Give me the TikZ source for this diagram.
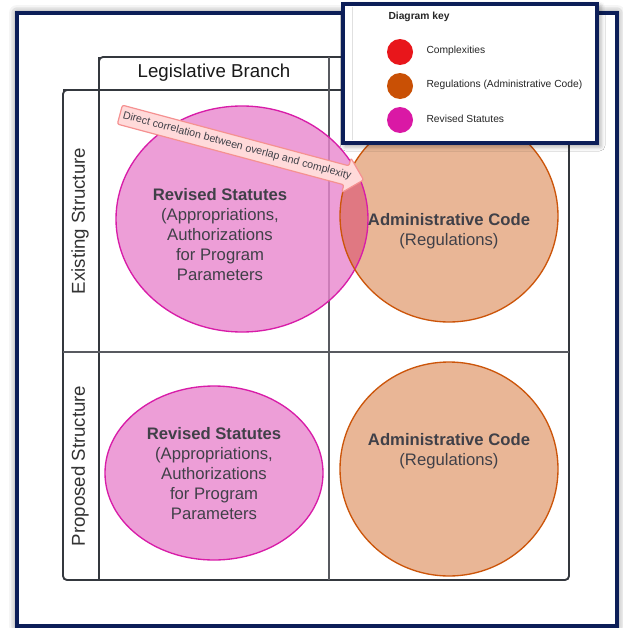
\documentclass[tikz,border=0pt]{standalone}
\usepackage{fontspec}
\setmainfont{Liberation Sans}
\usetikzlibrary{shapes.arrows,shadows.blur}

\definecolor{navy}{RGB}{12,30,88}
\definecolor{gridline}{RGB}{52,56,62}
\definecolor{midline}{RGB}{88,90,96}
\definecolor{inktext}{RGB}{64,64,72}
\definecolor{statfill}{RGB}{233,134,206}
\definecolor{statedge}{RGB}{216,28,168}
\definecolor{codefill}{RGB}{228,164,124}
\definecolor{codeedge}{RGB}{204,85,10}
\definecolor{overlapfill}{RGB}{224,120,130}
\definecolor{cplxred}{RGB}{232,22,27}
\definecolor{regorange}{RGB}{201,80,5}
\definecolor{rsmagenta}{RGB}{218,24,165}
\definecolor{notefill}{RGB}{255,218,218}
\definecolor{noteedge}{RGB}{245,145,145}

\tikzset{
  every picture/.style={line width=0.75pt},
  framebox/.style={navy, line width=2.8pt, fill=white, blur shadow={shadow xshift=0pt, shadow yshift=0pt, shadow blur radius=6pt, shadow opacity=60}},
  keybox/.style={navy, line width=2.6pt, fill=white, blur shadow={shadow xshift=2pt, shadow yshift=-2pt, shadow blur radius=4pt, shadow opacity=45}},
  bodytext/.style={font=\fontsize{12.5}{15}\selectfont, text=inktext, align=center, inner sep=0.75pt},
  headtext/.style={font=\fontsize{14}{16}\selectfont, text=black!90, inner sep=0.75pt},
  keytext/.style={font=\fontsize{7.7}{9}\selectfont, text=black!85, anchor=west, inner sep=0.75pt},
  keydot/.style={circle, minimum size=19.5pt, inner sep=0pt},
  statblob/.style={fill=statfill, fill opacity=0.8},
  codeblob/.style={fill=codefill, fill opacity=0.8},
}

\begin{document}
\begin{tikzpicture}[x=0.75pt,y=0.75pt,yscale=-1,xscale=1]
\useasboundingbox (0,0) rectangle (623,628);

%Outer frame
\draw [framebox] (17,13) rectangle (617,626);

%Table outline
\draw [gridline, line width=1.4pt, rounded corners=3pt] (99,90) -- (99,57) -- (569,57) -- (569,580) -- (63,580) -- (63,90) -- (99,90);
\draw [gridline, line width=2pt] (63,90) -- (569,90);
\draw [gridline, line width=2pt] (99,57) -- (99,580);
\draw [midline, line width=1.1pt] (63,352) -- (569,352);
\draw [midline, line width=1.1pt] (329,57) -- (329,580);

% Text Node
\node [headtext] (legis) at (214,73) {Legislative Branch};
\node [headtext, rotate=90, text=black!80] (existing) at (80,221) {Existing Structure};
\node [headtext, rotate=90, text=black!80] (proposed) at (80,466) {Proposed Structure};

%Existing row: statutes and code overlapping
\fill [codeblob] (449,216) ellipse [x radius=109, y radius=106];
\fill [statblob] (242,219) ellipse [x radius=126, y radius=113];
\begin{scope}
\clip (242,219) ellipse [x radius=126, y radius=113];
\fill [overlapfill] (449,216) ellipse [x radius=109, y radius=106];
\end{scope}
\draw [statedge, line width=1pt] (242,219) ellipse [x radius=126, y radius=113];
\draw [codeedge, line width=1pt] (449,216) ellipse [x radius=109, y radius=106];

%Proposed row: kept apart
\fill [statblob] (214,473) ellipse [x radius=109, y radius=87];
\draw [statedge, line width=1pt] (214,473) ellipse [x radius=109, y radius=87];
\fill [codeblob] (449,469) ellipse [x radius=109, y radius=107];
\draw [codeedge, line width=1pt] (449,469) ellipse [x radius=109, y radius=107];

% Text Node
\node [bodytext] (statA) at (220,235) {\textbf{Revised Statutes}\\(Appropriations,\\Authorizations\\for Program\\Parameters};
\node [bodytext] (codeA) at (449,231) {\textbf{Administrative Code}\\(Regulations)};
\node [bodytext] (statB) at (214,474) {\textbf{Revised Statutes}\\(Appropriations,\\Authorizations\\for Program\\Parameters};
\node [bodytext] (codeB) at (449,451) {\textbf{Administrative Code}\\(Regulations)};

%Callout arrow
\node [single arrow, draw=noteedge, fill=notefill, line width=0.9pt, rotate=-15, minimum height=188pt, single arrow head extend=6pt, rounded corners=1.5pt, font=\fontsize{8}{9}\selectfont, text=inktext, inner xsep=2pt, inner ysep=3pt, text height=6pt, text depth=1.8pt] (note) at (237,146) {Direct correlation between overlap and complexity};

%Diagram key
\draw [keybox] (343,4) rectangle (597,143);
\draw [black!12, line width=0.6pt] (352,7) -- (352,140);
\node [keytext, font=\bfseries\fontsize{7.7}{9}\selectfont] (keytitle) at (387,17) {Diagram key};
\node [keydot, fill=cplxred] (dotcplx) at (400,52) {};
\node [keytext] (labcplx) at (425,51) {Complexities};
\node [keydot, fill=regorange] (dotreg) at (400,86) {};
\node [keytext] (labreg) at (425,85) {Regulations (Administrative Code)};
\node [keydot, fill=rsmagenta] (dotrs) at (400,120) {};
\node [keytext] (labrs) at (425,119) {Revised Statutes};

\end{tikzpicture}
\end{document}
